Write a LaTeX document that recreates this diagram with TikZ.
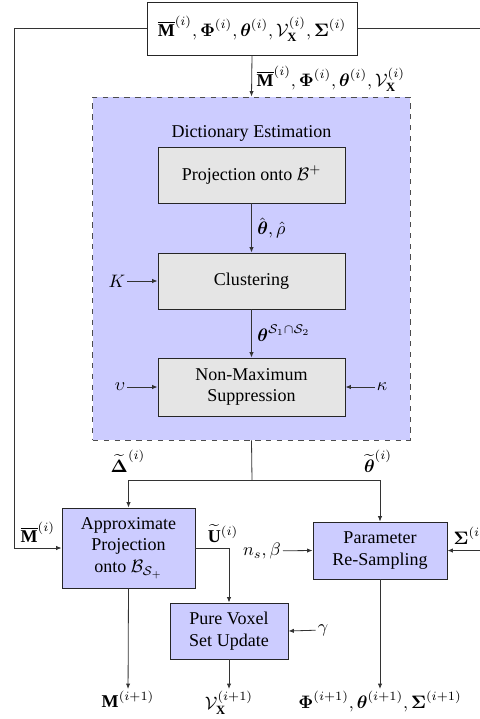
\documentclass[tikz,border=0pt]{standalone}
\usepackage{amsmath,amssymb}
\usepackage{fontspec}
\setmainfont{Liberation Serif}
\usetikzlibrary{arrows.meta}
\begin{document}
\begin{tikzpicture}[x=0.555pt,y=-0.555pt,
  box/.style={draw=black!85, line width=0.5pt, inner sep=0pt, align=center, font=\normalsize},
  bluebox/.style={box, fill=blue!20},
  graybox/.style={box, fill=black!10},
  arr/.style={draw=black!80, line width=0.45pt, -{Latex[length=3pt,width=2.4pt]}},
  ln/.style={draw=black!80, line width=0.45pt},
  lbl/.style={inner sep=1pt, font=\normalsize}]
\useasboundingbox (0,0) rectangle (480,719);
% dashed container
\node[draw=black!70, dashed, fill=blue!20, line width=0.5pt, minimum width=176pt, minimum height=190.4pt, inner sep=0pt] (dict) at (251.5,268.5) {};
\node[lbl] (dtitle) at (251.5,133) {Dictionary Estimation};
% boxes
\node[box, fill=white, minimum width=116.6pt, minimum height=29.4pt] (top) at (252,28.5)
  {$\overline{\mathbf{M}}^{(i)}, \boldsymbol{\Phi}^{(i)}, \boldsymbol{\theta}^{(i)}, \mathcal{V}_{\mathbf{X}}^{(i)}, \boldsymbol{\Sigma}^{(i)}$};
\node[graybox, minimum width=103.8pt, minimum height=31.1pt] (proj) at (251.5,175) {Projection onto $\mathcal{B}^{+}$};
\node[graybox, minimum width=103.8pt, minimum height=31.1pt] (clust) at (251.5,281) {Clustering};
\node[graybox, minimum width=103.8pt, minimum height=32.2pt] (nms) at (251.5,387) {Non-Maximum\\Suppression};
\node[bluebox, minimum width=73.8pt, minimum height=44.4pt] (approx) at (128.5,548) {Approximate\\Projection\\onto $\mathcal{B}_{\mathcal{S}_+}$};
\node[bluebox, minimum width=74.4pt, minimum height=31.6pt] (param) at (380,550.5) {Parameter\\Re-Sampling};
\node[bluebox, minimum width=65.5pt, minimum height=31.1pt] (pure) at (229,631) {Pure Voxel\\Set Update};
% inputs
\node[lbl] (K) at (117,281) {$K$};
\node[lbl] (ups) at (120,387) {$\upsilon$};
\node[lbl] (kap) at (382,387) {$\kappa$};
\node[lbl] (ns) at (262,551) {$n_s,\beta$};
\node[lbl] (gam) at (323,630) {$\gamma$};
% branch labels
\node[lbl] (dlbl) at (128,461) {$\widetilde{\boldsymbol{\Delta}}^{(i)}$};
\node[lbl] (tlbl) at (378,461) {$\widetilde{\boldsymbol{\theta}}^{(i)}$};
% outputs
\node[lbl, anchor=north] (o1) at (128,689) {$\mathbf{M}^{(i+1)}$};
\node[lbl, anchor=north] (o2) at (229,689) {$\mathcal{V}_{\mathbf{X}}^{(i+1)}$};
\node[lbl, anchor=north] (o3) at (380,689) {$\boldsymbol{\Phi}^{(i+1)}, \boldsymbol{\theta}^{(i+1)}, \boldsymbol{\Sigma}^{(i+1)}$};
% coordinates
\coordinate (lc) at (14,548);
\coordinate (rc) at (482,550.5);
\coordinate (split) at (252,480);
% connectors
\draw[arr] (top.south) -- node[lbl, anchor=west, xshift=1.5pt, yshift=-1.5pt] {$\overline{\mathbf{M}}^{(i)}, \boldsymbol{\Phi}^{(i)}, \boldsymbol{\theta}^{(i)}, \mathcal{V}_{\mathbf{X}}^{(i)}$} (dict.north);
\draw[arr] (proj.south) -- node[lbl, anchor=west, xshift=2pt] {$\hat{\boldsymbol{\theta}}, \hat{\rho}$} (clust.north);
\draw[arr] (clust.south) -- node[lbl, anchor=west, xshift=2pt] {$\boldsymbol{\theta}^{\mathcal{S}_1\cap\mathcal{S}_2}$} (nms.north);
\draw[arr] (K) -- (clust.west);
\draw[arr] (ups) -- (nms.west);
\draw[arr] (kap) -- (nms.east);
\draw[ln] (dict.south) -- (split);
\draw[arr] (split) -| (approx.north);
\draw[arr] (split) -| (param.north);
\draw[arr] (top.west) -| (lc) -- node[lbl, anchor=south, pos=0.5, yshift=2pt] {$\overline{\mathbf{M}}^{(i)}$} (approx.west);
\draw[arr] (top.east) -| (rc) -- node[lbl, anchor=south west, pos=0, yshift=2pt, xshift=-17pt] {$\boldsymbol{\Sigma}^{(i)}$} (param.east);
\draw[arr] (approx.east) -| node[lbl, pos=0.1, anchor=south west, yshift=2pt, xshift=2pt] {$\widetilde{\mathbf{U}}^{(i)}$} (pure.north);
\draw[arr] (ns) -- (param.west);
\draw[arr] (gam) -- (pure.east);
\draw[arr] (approx.south) -- (o1);
\draw[arr] (pure.south) -- (o2);
\draw[arr] (param.south) -- (o3);
\end{tikzpicture}
\end{document}
